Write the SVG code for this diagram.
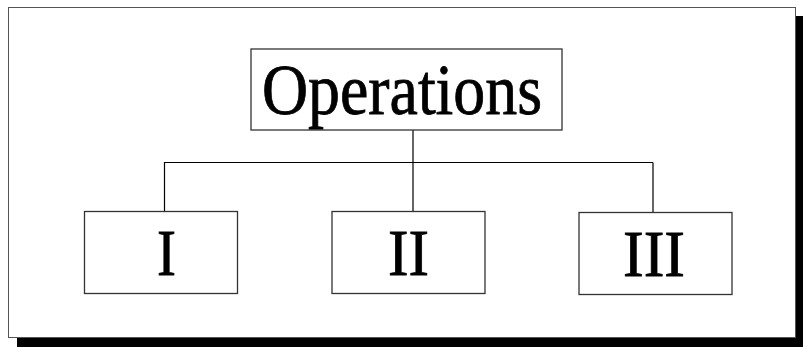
<svg xmlns="http://www.w3.org/2000/svg" width="803" height="347" viewBox="0 0 803 347">
<style>
.box{fill:#fff;stroke:#333;stroke-width:1.3}
.lbl{font-family:"Liberation Serif","Times New Roman",serif;fill:#000;stroke:#000;stroke-width:0.8;text-anchor:middle}
.conn{fill:none;stroke:#000;stroke-width:1.2}
</style>
<rect x="0" y="0" width="803" height="347" fill="#fff"/>
<g id="frame">
<rect x="17" y="16" width="786" height="331" fill="#000"/>
<rect x="8.5" y="7.5" width="787" height="330" fill="#fff" stroke="#555" stroke-width="1"/>
</g>
<g id="connectors">
<path class="conn" d="M413 130 V212 M164.5 162.5 H653 M164.5 162 V212 M653 162.5 V212"/>
</g>
<g id="operations">
<rect class="box" x="251" y="49" width="311" height="81"/>
<text class="lbl" x="402" y="114" font-size="72" textLength="280" lengthAdjust="spacingAndGlyphs">Operations</text>
</g>
<g id="node-I">
<rect class="box" x="84.5" y="211.5" width="153" height="82"/>
<text class="lbl" x="166.5" y="275" font-size="66" textLength="19" lengthAdjust="spacingAndGlyphs">I</text>
</g>
<g id="node-II">
<rect class="box" x="332" y="211.5" width="153" height="82"/>
<text class="lbl" x="408.5" y="275" font-size="66" textLength="41" lengthAdjust="spacingAndGlyphs">II</text>
</g>
<g id="node-III">
<rect class="box" x="579" y="212.5" width="153" height="82"/>
<text class="lbl" x="654" y="276" font-size="66" textLength="62" lengthAdjust="spacingAndGlyphs">III</text>
</g>
</svg>
